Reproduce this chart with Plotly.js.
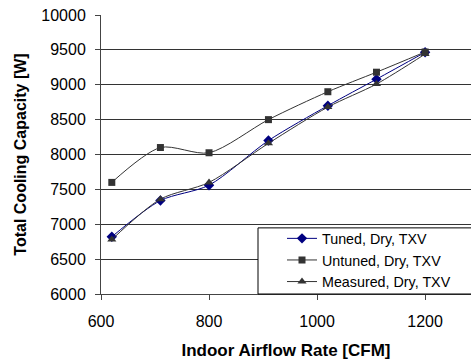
<!DOCTYPE html>
<html>
<head>
<meta charset="utf-8">
<script src="https://cdn.plot.ly/plotly-3.0.1.min.js"></script>
<style>html,body{margin:0;padding:0;background:#fff;}#chart{width:471px;height:362px;}</style>
</head>
<body>
<div id="chart"></div>
<script>
var airflow = [620, 710, 800, 910, 1020, 1110, 1200];
var tuned = [6820, 7340, 7560, 8200, 8700, 9080, 9465];
var untuned = [7600, 8100, 8025, 8500, 8900, 9180, 9470];
var measured = [6780, 7360, 7600, 8160, 8680, 9010, 9440];
var seriesNames = ["Tuned, Dry, TXV", "Untuned, Dry, TXV", "Measured, Dry, TXV"];
var xTicks = [600, 800, 1000, 1200];
var yTicks = [6000, 6500, 7000, 7500, 8000, 8500, 9000, 9500, 10000];
var yTickText = ["6000", "6500", "7000", "7500", "8000", "8500", "9000", "9500", "10000"];

var font = "Liberation Sans, Arial, sans-serif";
var traces = [
  {x: airflow, y: tuned, name: seriesNames[0], mode: "lines+markers",
   line: {color: "#000080", width: 1, shape: "spline", smoothing: 0.8},
   marker: {symbol: "diamond", size: 8, color: "#000080"}},
  {x: airflow, y: untuned, name: seriesNames[1], mode: "lines+markers",
   line: {color: "#333333", width: 1, shape: "spline", smoothing: 0.8},
   marker: {symbol: "square", size: 7, color: "#333333"}},
  {x: airflow, y: measured, name: seriesNames[2], mode: "lines+markers",
   line: {color: "#333333", width: 1, shape: "spline", smoothing: 0.8},
   marker: {symbol: "triangle-up", size: 8, color: "#333333"}}
];
var layout = {
  width: 471, height: 362,
  margin: {l: 101, r: 0, t: 15, b: 68},
  paper_bgcolor: "#fff", plot_bgcolor: "#fff",
  font: {family: font, size: 16, color: "#000"},
  showlegend: true,
  legend: {x: (282 - 101) / 370, y: 0.256, xanchor: "left", yanchor: "top",
           bgcolor: "rgba(0,0,0,0)", borderwidth: 0,
           font: {family: font, size: 14.3, color: "#000"},
           tracegroupgap: 0, itemwidth: 30},
  shapes: [{type: "rect", xref: "paper", yref: "paper", x0: (258 - 101) / 370, x1: 1.01, y0: 0, y1: 0.237,
            line: {color: "#000", width: 1}, fillcolor: "#fff", layer: "above"}],
  xaxis: {range: [600, 1285], tickvals: xTicks, ticks: "outside", ticklen: 5,
          tickcolor: "#444", showgrid: false, zeroline: false,
          showline: true, linecolor: "#444", linewidth: 1, ticklabelstandoff: 8,
          title: {text: "Indoor Airflow Rate [CFM]", font: {family: font, size: 17, color: "#000", weight: "bold"}, standoff: 14},
          tickfont: {family: font, size: 16, color: "#000"}, automargin: false},
  yaxis: {range: [6000, 10000], tickvals: yTicks, ticktext: yTickText, ticks: "outside", ticklen: 5,
          tickcolor: "#444", showgrid: true, gridcolor: "#333", gridwidth: 1,
          zeroline: false, showline: true, linecolor: "#444", linewidth: 1, ticklabelstandoff: 6,
          title: {text: "Total Cooling Capacity [W]", font: {family: font, size: 16, color: "#000", weight: "bold"}, standoff: 10},
          tickfont: {family: font, size: 16, color: "#000"}, automargin: false}
};
Plotly.newPlot("chart", traces, layout, {staticPlot: true, displayModeBar: false});
</script>
</body>
</html>
